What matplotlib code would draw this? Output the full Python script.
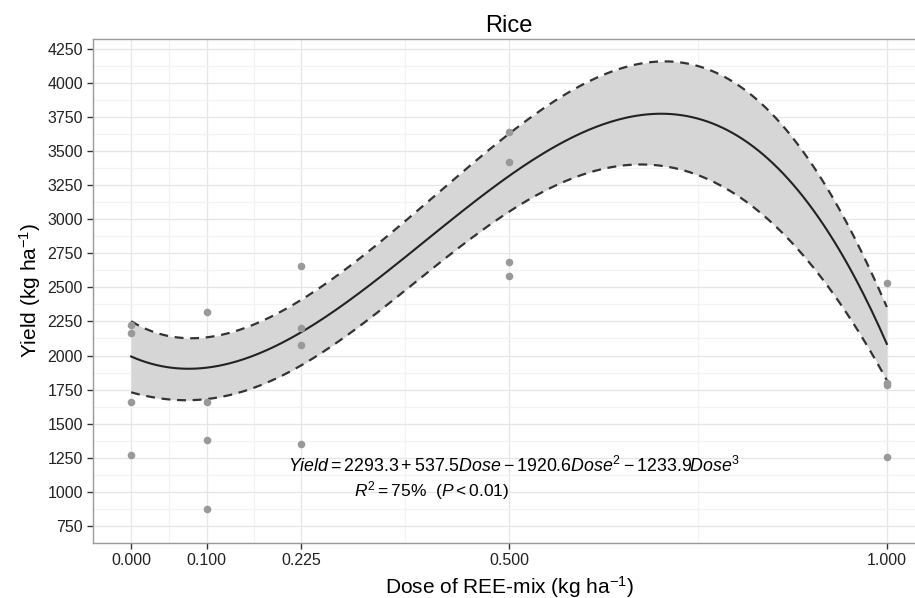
import numpy as np
import matplotlib
matplotlib.use('Agg')
import matplotlib.pyplot as plt

# observed yields (kg/ha) per dose (kg/ha)
dose_pts = [0.0, 0.0, 0.0, 0.0,
            0.1, 0.1, 0.1, 0.1,
            0.225, 0.225, 0.225, 0.225,
            0.5, 0.5, 0.5, 0.5,
            1.0, 1.0, 1.0, 1.0]
yield_pts = [2221, 2167, 1655, 1267,
             2316, 1655, 1379, 875,
             2657, 2202, 2077, 1350,
             3643, 3423, 2689, 2587,
             2531, 1800, 1785, 1255]

# fitted curve
fit_dose = [0.000, 0.037, 0.081, 0.125, 0.169, 0.212, 0.256, 0.299, 0.343,
            0.387, 0.431, 0.475, 0.489, 0.533, 0.577, 0.621, 0.665, 0.700,
            0.735, 0.753, 0.766, 0.797, 0.841, 0.885, 0.929, 0.974, 1.000]
fit_yield = [1989, 1928, 1909, 1933, 2014, 2142, 2288, 2428, 2611,
             2818, 3025, 3221, 3281, 3464, 3610, 3709, 3757, 3767,
             3753, 3720, 3696, 3623, 3440, 3197, 2879, 2416, 2063]

# confidence band, upper and lower edge
up_dose = [0.000, 0.037, 0.068, 0.103, 0.147, 0.191, 0.211, 0.235, 0.255,
           0.299, 0.343, 0.387, 0.431, 0.475, 0.489, 0.515, 0.533, 0.577,
           0.621, 0.665, 0.705, 0.735, 0.753, 0.766, 0.797, 0.841, 0.885,
           0.929, 0.974, 1.000]
up_yield = [2250, 2172, 2123, 2128, 2184, 2294, 2375, 2450, 2540,
            2696, 2879, 3098, 3318, 3530, 3575, 3660, 3750, 3952,
            4074, 4135, 4159, 4147, 4123, 4104, 4001, 3794, 3513,
            3172, 2709, 2330]
lo_dose = [0.000, 0.037, 0.081, 0.125, 0.169, 0.213, 0.255, 0.299, 0.343,
           0.387, 0.431, 0.475, 0.489, 0.515, 0.533, 0.577, 0.621, 0.665,
           0.687, 0.735, 0.753, 0.766, 0.797, 0.841, 0.885, 0.929, 0.974,
           1.000]
lo_yield = [1716, 1697, 1690, 1709, 1770, 1867, 2005, 2197, 2416,
            2611, 2794, 2965, 3014, 3100, 3165, 3281, 3355, 3379,
            3382, 3355, 3330, 3305, 3221, 3025, 2757, 2416, 2074,
            1831]

x_ticks = [0.0, 0.1, 0.225, 0.5, 1.0]
x_ticklabels = ['0.000', '0.100', '0.225', '0.500', '1.000']
y_ticks = np.arange(750, 4251, 250)

# smooth trend lines through the read values (cubic fit like the original)
xx = np.linspace(0, 1, 300)
fit_line = np.poly1d(np.polyfit(fit_dose, fit_yield, 3))(xx)
up_line = np.poly1d(np.polyfit(up_dose, up_yield, 6))(xx)
lo_line = np.poly1d(np.polyfit(lo_dose, lo_yield, 6))(xx)

plt.rcParams['font.family'] = 'Liberation Sans'
plt.rcParams['mathtext.fontset'] = 'custom'
plt.rcParams['mathtext.rm'] = 'Liberation Sans'
plt.rcParams['mathtext.it'] = 'Liberation Sans:italic'

fig = plt.figure(figsize=(9.15, 5.98), dpi=100)
ax = fig.add_axes([0.102, 0.0925, 0.9085, 0.8423])

ax.fill_between(xx, lo_line, up_line, color='#d6d6d6', lw=0, zorder=2)
ax.plot(xx, up_line, color='#333333', lw=1.6, ls=(0, (4, 3)), zorder=3)
ax.plot(xx, lo_line, color='#333333', lw=1.6, ls=(0, (4, 3)), zorder=3)
ax.plot(xx, fit_line, color='#222222', lw=1.5, zorder=4)
ax.scatter(dose_pts, yield_pts, s=30, color='#999999', lw=0, zorder=5)

ax.set_xlim(-0.05, 1.05)
ax.set_ylim(640, 4325)
ax.set_xticks(x_ticks)
ax.set_xticklabels(x_ticklabels)
ax.set_yticks(y_ticks)
ax.set_xticks([0.05, 0.1625, 0.3625, 0.75], minor=True)
ax.set_yticks(np.arange(625, 4326, 250), minor=True)

ax.grid(which='major', color='#e6e6e6', lw=0.9, zorder=0)
ax.grid(which='minor', color='#f3f3f3', lw=0.9, zorder=0)
ax.set_axisbelow(True)

ax.tick_params(which='major', length=4, width=1, color='#333333',
               labelsize=11.5, labelcolor='#222222')
ax.tick_params(which='minor', length=0)
for side in ['left', 'bottom', 'top']:
    ax.spines[side].set_color('#9a9a9a')
    ax.spines[side].set_linewidth(1)
ax.spines['right'].set_visible(False)

ax.set_title('Rice', fontsize=17, pad=5)
ax.set_xlabel('Dose of REE-mix (kg ha$^{-1}$)', fontsize=15, labelpad=4)
ax.set_ylabel('Yield (kg ha$^{-1}$)', fontsize=15, labelpad=3)

ax.text(0.507, 1187,
        r'$Yield = 2293.3 + 537.5Dose - 1920.6Dose^2 - 1233.9Dose^3$',
        ha='center', va='center', fontsize=12.8)
ax.text(0.398, 1011, r'$R^2 = 75\%\ \ (P < 0.01)$',
        ha='center', va='center', fontsize=12.5)

fig.savefig('out.png', dpi=100)
